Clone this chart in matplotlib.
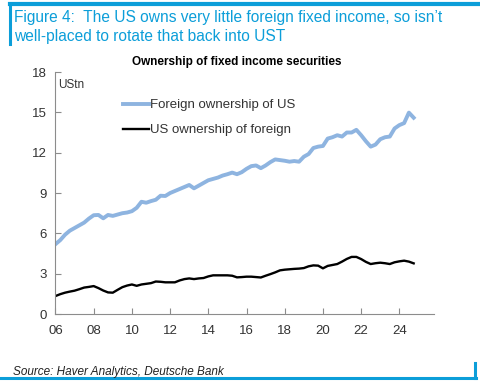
import matplotlib
matplotlib.use("Agg")
import matplotlib.pyplot as plt
import numpy as np

# Datos trimestrales 2006Q1 - 2024Q4 (USD tn)
anio_ini = 2006
n_trim = 76
extranjeros_en_us = [5.2, 5.5, 5.9, 6.2, 6.4, 6.6, 6.8, 7.1, 7.35, 7.37, 7.12, 7.37,
                     7.3, 7.4, 7.5, 7.55, 7.65, 7.9, 8.35, 8.28, 8.4, 8.5, 8.8, 8.78,
                     9.0, 9.15, 9.3, 9.45, 9.6, 9.35, 9.55, 9.75, 9.95, 10.05, 10.15, 10.3,
                     10.4, 10.52, 10.4, 10.55, 10.8, 11.0, 11.05, 10.85, 11.05, 11.3, 11.5, 11.45,
                     11.4, 11.33, 11.38, 11.33, 11.7, 11.9, 12.35, 12.45, 12.5, 13.05, 13.15, 13.3,
                     13.2, 13.5, 13.5, 13.7, 13.3, 12.85, 12.45, 12.6, 13.0, 13.15, 13.2, 13.8,
                     14.05, 14.2, 14.98, 14.6]
us_en_extranjero = [1.34, 1.48, 1.59, 1.67, 1.74, 1.85, 1.97, 2.02, 2.08, 1.93, 1.75, 1.61,
                    1.59, 1.8, 2.0, 2.12, 2.2, 2.1, 2.2, 2.25, 2.3, 2.42, 2.4, 2.36,
                    2.36, 2.36, 2.5, 2.6, 2.65, 2.6, 2.65, 2.68, 2.8, 2.88, 2.88, 2.88,
                    2.88, 2.85, 2.73, 2.75, 2.78, 2.78, 2.75, 2.72, 2.85, 2.97, 3.1, 3.25,
                    3.3, 3.33, 3.36, 3.38, 3.42, 3.55, 3.62, 3.6, 3.4, 3.58, 3.65, 3.72,
                    3.9, 4.1, 4.25, 4.25, 4.09, 3.88, 3.72, 3.78, 3.82, 3.78, 3.72, 3.85,
                    3.92, 3.97, 3.9, 3.77]
x_ticks = [2006, 2008, 2010, 2012, 2014, 2016, 2018, 2020, 2022, 2024]
x_etiquetas = ['06', '08', '10', '12', '14', '16', '18', '20', '22', '24']
y_ticks = [0, 3, 6, 9, 12, 15, 18]

tiempo = anio_ini + np.arange(n_trim) / 4.0

azul_db = '#0C9ED9'
plt.rcParams['font.family'] = ['Liberation Sans', 'DejaVu Sans']

fig = plt.figure(figsize=(4.8, 3.83), dpi=100)
ax = fig.add_axes([0.1156, 0.180, 0.788, 0.632])

ax.plot(tiempo, extranjeros_en_us, color='#8EB4E0', lw=2.8, label='Foreign ownership of US')
ax.plot(tiempo, us_en_extranjero, color='black', lw=1.7, label='US ownership of foreign')

ax.set_xlim(2006, 2025.8)
ax.set_ylim(0, 18)
ax.set_xticks(x_ticks)
ax.set_xticklabels(x_etiquetas)
ax.set_yticks(y_ticks)
for s in ['top', 'right']:
    ax.spines[s].set_visible(False)
for s in ['left', 'bottom']:
    ax.spines[s].set_color('#8C8C8C')
    ax.spines[s].set_linewidth(0.8)
ax.tick_params(direction='in', length=4, width=0.8, color='#8C8C8C', labelsize=9.5,
               labelcolor='#333333')
ax.tick_params(axis='x', pad=8)
ax.tick_params(axis='y', pad=6)

ax.text(0.008, 0.97, 'UStn', transform=ax.transAxes, fontsize=8.5, color='#333333',
        va='top', ha='left')
ax.set_title('Ownership of fixed income securities', fontsize=8.5, fontweight='bold',
             pad=5, x=0.48)
leg = ax.legend(loc='upper left', bbox_to_anchor=(0.16, 0.915), frameon=False, fontsize=9.5,
                handlelength=2.0, handletextpad=0.1, labelspacing=0.95, borderpad=0)
for t in leg.get_texts():
    t.set_color('#333333')

# Marco del encabezado y pie
fig.add_artist(plt.Line2D([0.021, 1.0], [0.990, 0.990], color=azul_db, lw=3))
fig.add_artist(plt.Line2D([0.021, 0.021], [0.990, 0.885], color=azul_db, lw=2.2))
fig.text(0.030, 0.974, 'Figure 4:  The US owns very little foreign fixed income, so isn\u2019t\n'
         'well-placed to rotate that back into UST', color=azul_db, fontsize=11.2,
         va='top', ha='left', linespacing=1.3)

fig.add_artist(plt.Line2D([0.0, 0.991], [0.013, 0.013], color=azul_db, lw=2.2))
fig.add_artist(plt.Line2D([0.989, 0.989], [0.013, 0.052], color=azul_db, lw=2.2))
fig.text(0.027, 0.030, 'Source: Haver Analytics, Deutsche Bank', fontsize=8.5,
         style='italic', color='#222222', va='center', ha='left')

fig.savefig('out.png', dpi=100)
